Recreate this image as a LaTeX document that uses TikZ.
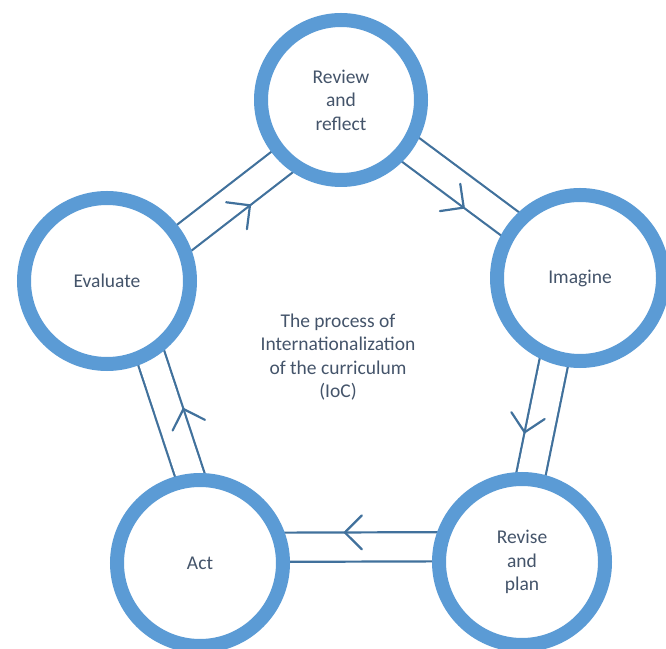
\documentclass[tikz,border=0pt]{standalone}
\usepackage{fontspec}
\setmainfont{Carlito}
\usetikzlibrary{decorations.markings,backgrounds}
\definecolor{ringblue}{HTML}{5B9BD5}
\definecolor{linkblue}{HTML}{41719C}
\definecolor{textgrey}{HTML}{44546A}
\begin{document}
\begin{tikzpicture}[x=1pt,y=1pt,
    stage/.style={circle,draw=ringblue,line width=14pt,fill=white,minimum size=166pt,inner sep=0pt,
      align=center,text=textgrey,font=\fontsize{19.5}{23.5}\selectfont},
    link/.style={draw=linkblue,line width=2.2pt,double=white,double distance=27pt,
      postaction={decorate},
      decoration={markings,mark=at position #1 with
        {\draw[linkblue,line width=2.2pt,line cap=round] (-17pt,-31.6pt) -- (0pt,-14.6pt) -- (-17pt,2.4pt);}}},
    link/.default=0.5]
    \clip (0,0) rectangle (666,648);
    \node[stage,minimum size=160pt] (review) at (341,548) {Review\\and\\reflect};
    \node[stage] (imagine) at (580,370) {Imagine};
    \node[stage] (revise) at (522,86) {Revise\\and\\plan};
    \node[stage] (act) at (200,85) {Act};
    \node[stage] (evaluate) at (107,367) {Evaluate};
    \node[align=center,text=textgrey,font=\fontsize{19.5}{23.5}\selectfont] (ioc) at (338,291)
      {The process of\\Internationalization\\of the curriculum\\(IoC)};
    \begin{scope}[on background layer]
        \path[link=0.54,transform canvas={shift={(7.7,-10.5)}}] (evaluate.center) -- (review.center);
        \path[link=0.55,transform canvas={shift={(0,2)}}] (review.center) -- (imagine.center);
        \path[link=0.56,transform canvas={shift={(-8.6,1.8)}}] (imagine.center) -- (revise.center);
        \path[link=0.55,transform canvas={shift={(0,15.5)}}] (revise.center) -- (act.center);
        \path[link=0.51,transform canvas={shift={(17,5.6)}}] (act.center) -- (evaluate.center);
    \end{scope}
\end{tikzpicture}
\end{document}
